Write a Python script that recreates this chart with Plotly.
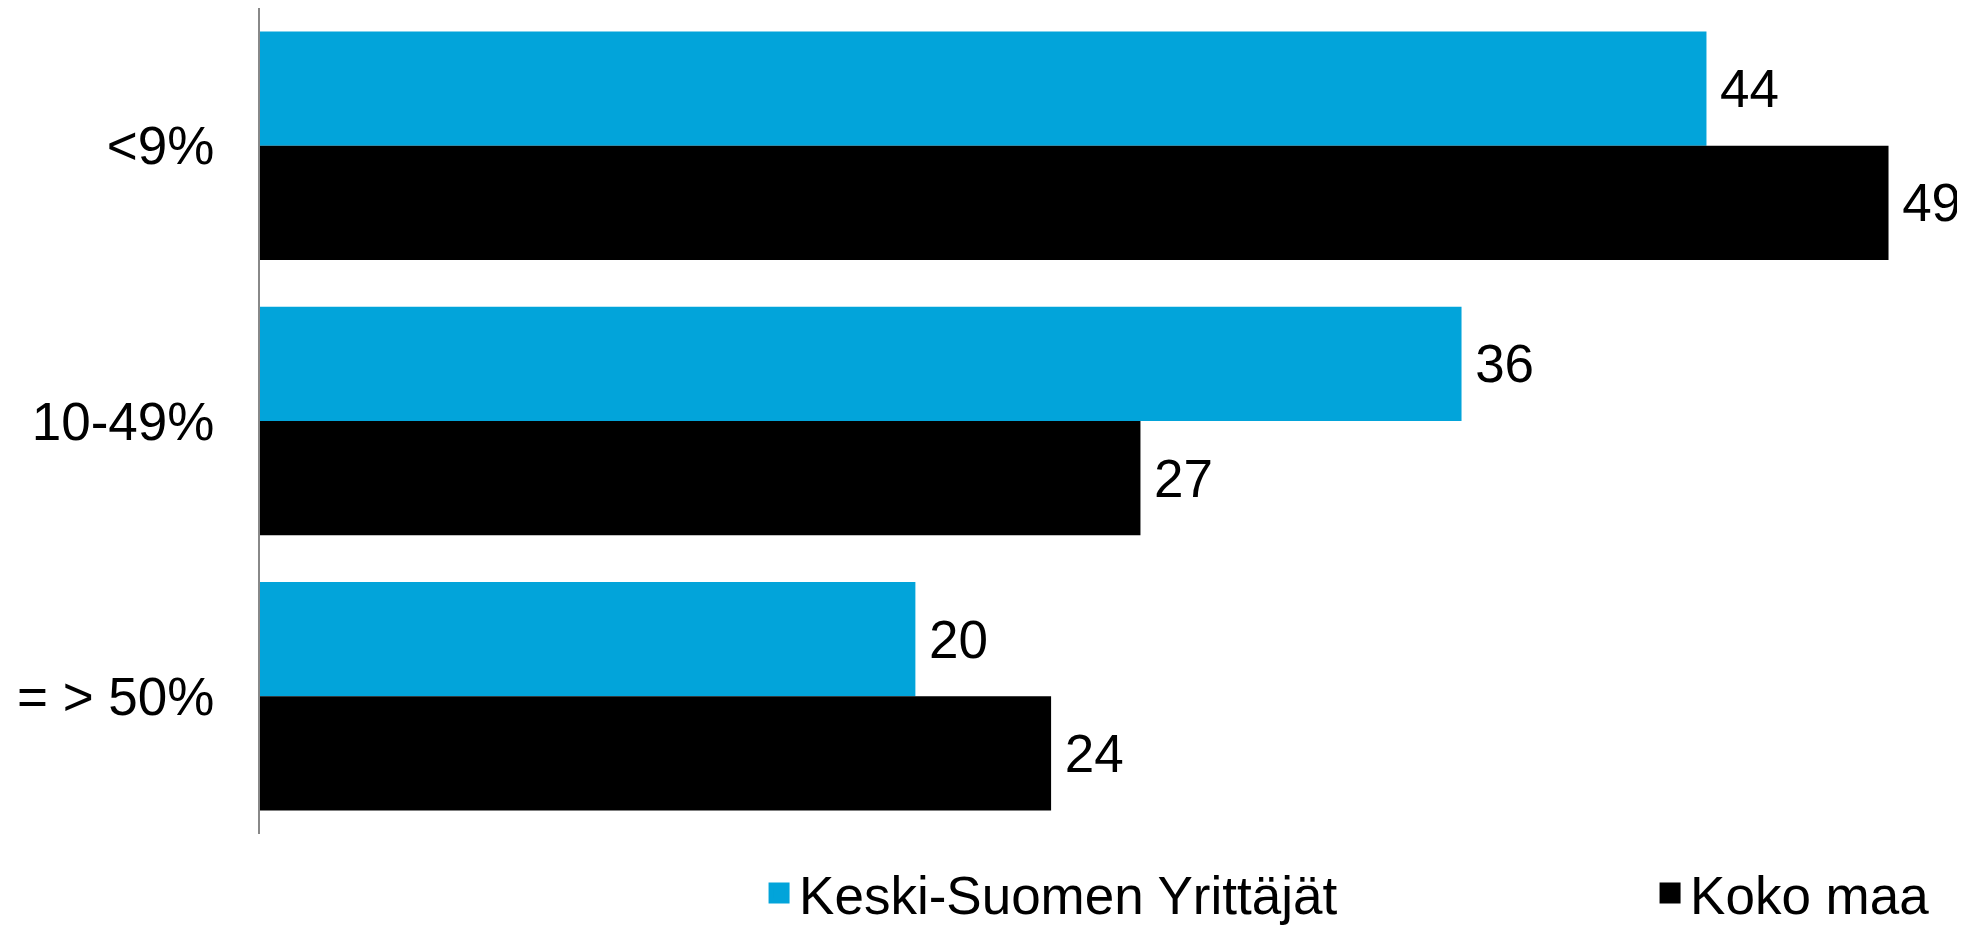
import plotly.graph_objects as go

categories = ["<9%", "10-49%", "= > 50%"]
keski_suomi = [43.7, 36.3, 19.8]
koko_maa = [49.2, 26.6, 23.9]
series_names = ["Keski-Suomen Yrittäjät", "Koko maa"]

BLUE = "#02A4DA"
FONT = "Liberation Sans, Arial, sans-serif"
colors = [BLUE, "black"]

fig = go.Figure()
for name, vals, col in zip(series_names, [keski_suomi, koko_maa], colors):
    fig.add_trace(go.Bar(
        y=categories, x=vals, orientation="h", name=name, showlegend=False,
        marker=dict(color=col, line=dict(width=0)),
        texttemplate="\u2009%{x:.0f}", textposition="outside", cliponaxis=False,
        constraintext="none", textfont=dict(size=53, color="black"),
    ))

# legend entries with bigger square swatches
for name, col, lw in zip(series_names, colors, [846, 245]):
    fig.add_trace(go.Scatter(
        x=[None], y=[None], mode="markers", name=name,
        marker=dict(symbol="square", size=16, color=col, line=dict(width=5, color=col)),
        legendwidth=lw, hoverinfo="skip",
    ))

fig.update_layout(
    width=1957, height=918,
    margin=dict(l=252, r=0, t=0, b=92, autoexpand=False),
    paper_bgcolor="white", plot_bgcolor="white",
    font=dict(family=FONT, size=53, color="black"),
    barmode="group", bargap=0.17, bargroupgap=0,
    showlegend=True,
    legend=dict(
        orientation="h", x=0.2927, xanchor="left", y=-0.0714, yanchor="middle",
        font=dict(size=53), bgcolor="rgba(0,0,0,0)", traceorder="normal",
        itemsizing="trace",
    ),
    xaxis=dict(range=[0, 1705 / 33.1], showgrid=False, zeroline=False,
               showticklabels=False, showline=False, fixedrange=True),
    yaxis=dict(autorange="reversed", showgrid=False, zeroline=False,
               showline=True, linecolor="#888888", linewidth=2,
               ticks="", ticklabelstandoff=33, fixedrange=True),
)

fig.write_html("out.html")
